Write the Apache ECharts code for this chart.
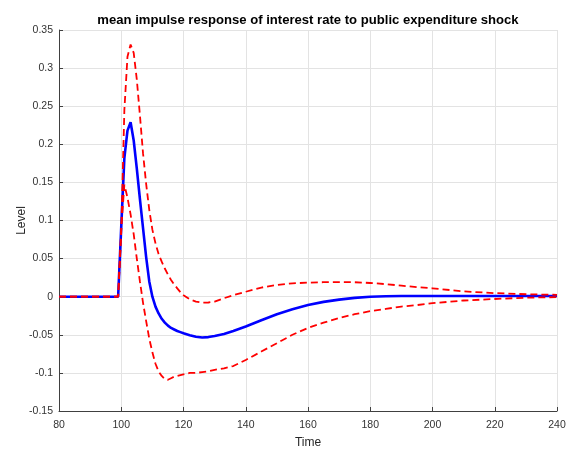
<!DOCTYPE html>
<html>
<head>
<meta charset="utf-8">
<script src="https://cdn.jsdelivr.net/npm/echarts@6/dist/echarts.min.js"></script>
<style>
  html, body { margin: 0; padding: 0; background: #ffffff; }
  #chart { width: 574px; height: 454px; }
</style>
</head>
<body>
<div id="chart"></div>
<script>
// Horizon (periods) shared by the three responses
const time = [80, 99, 100, 101, 102, 103, 104, 105, 106, 107, 108, 109, 110, 111, 112, 113, 114, 115, 116, 117, 118, 119, 120,
  122, 124, 126, 128, 130, 133, 136, 140, 145, 150, 155, 160, 165, 170, 175, 180, 185, 190, 195, 200, 210, 220, 230, 240];

// Mean impulse response of the interest rate
const meanResponse = [0, 0, 0.092, 0.182, 0.218, 0.229, 0.205, 0.168, 0.128, 0.090, 0.052, 0.020, 0.000, -0.013, -0.022, -0.029, -0.034, -0.038, -0.041, -0.043, -0.045, -0.0465, -0.048,
  -0.0505, -0.0525, -0.0535, -0.053, -0.0515, -0.049, -0.045, -0.039, -0.031, -0.023, -0.0165, -0.011, -0.0068, -0.0038, -0.0015, 0, 0.0006, 0.001, 0.001, 0.001, 0.001, 0.001, 0.001, 0.001];

// Upper and lower error bands
const upperBand = [0, 0, 0.085, 0.245, 0.315, 0.331, 0.320, 0.285, 0.238, 0.188, 0.148, 0.114, 0.088, 0.070, 0.056, 0.046, 0.037, 0.029, 0.022, 0.016, 0.011, 0.006, 0.002,
  -0.0035, -0.0065, -0.0078, -0.0076, -0.0065, -0.002, 0.002, 0.0065, 0.012, 0.0155, 0.0175, 0.0185, 0.019, 0.019, 0.019, 0.018, 0.0165, 0.0145, 0.0125, 0.011, 0.007, 0.0047, 0.0032, 0.0025];

const lowerBand = [0, 0, 0.090, 0.147, 0.130, 0.108, 0.082, 0.050, 0.020, -0.008, -0.032, -0.055, -0.073, -0.088, -0.098, -0.104, -0.108, -0.109, -0.107, -0.105, -0.104, -0.103, -0.102,
  -0.100, -0.100, -0.099, -0.098, -0.096, -0.094, -0.091, -0.083, -0.072, -0.061, -0.050, -0.041, -0.034, -0.028, -0.023, -0.019, -0.016, -0.013, -0.011, -0.0085, -0.005, -0.003, -0.0013, -0.0005];

// Axis tick values
const xTicks = [80, 100, 120, 140, 160, 180, 200, 220, 240];
const yTicks = [-0.15, -0.1, -0.05, 0, 0.05, 0.1, 0.15, 0.2, 0.25, 0.3, 0.35];

const pairs = (ys) => time.map((t, i) => [t, ys[i]]);

const FONT = '"Liberation Sans", Arial, Helvetica, sans-serif';
const AXIS_COLOR = '#404040';
const LABEL_COLOR = '#333333';
const GRID_COLOR = '#e3e3e3';

const chart = echarts.init(document.getElementById('chart'), null, { renderer: 'canvas' });

chart.setOption({
  animation: false,
  backgroundColor: '#ffffff',
  textStyle: { fontFamily: FONT },
  title: {
    text: 'mean impulse response of interest rate to public expenditure shock',
    left: 303,
    textAlign: 'center',
    top: 9,
    textStyle: { fontFamily: FONT, fontSize: 13.1, fontWeight: 'bold', color: '#000000' }
  },
  grid: { left: 59, right: 17, top: 30, bottom: 43, containLabel: false, outerBoundsMode: 'none' },
  xAxis: {
    type: 'value',
    min: xTicks[0],
    max: xTicks[xTicks.length - 1],
    interval: xTicks[1] - xTicks[0],
    name: 'Time',
    nameLocation: 'middle',
    nameGap: 26,
    nameMoveOverlap: false,
    nameTextStyle: { fontFamily: FONT, fontSize: 12, color: '#262626' },
    axisLine: { onZero: false, lineStyle: { color: AXIS_COLOR, width: 1 } },
    axisTick: { show: true, inside: true, length: 4, lineStyle: { color: AXIS_COLOR } },
    axisLabel: { fontFamily: FONT, fontSize: 10.5, color: LABEL_COLOR, margin: 9 },
    splitLine: { show: true, lineStyle: { color: GRID_COLOR, width: 1 } }
  },
  yAxis: {
    type: 'value',
    min: yTicks[0],
    max: yTicks[yTicks.length - 1],
    interval: 0.05,
    name: 'Level',
    nameLocation: 'middle',
    nameRotate: 90,
    nameGap: 31,
    nameMoveOverlap: false,
    nameTextStyle: { fontFamily: FONT, fontSize: 12, color: '#262626' },
    axisLine: { show: true, onZero: false, lineStyle: { color: AXIS_COLOR, width: 1 } },
    axisTick: { show: true, inside: true, length: 4, lineStyle: { color: AXIS_COLOR } },
    axisLabel: {
      fontFamily: FONT, fontSize: 10.5, color: LABEL_COLOR, margin: 6,
      formatter: (v) => String(Math.round(v * 100) / 100)
    },
    splitLine: { show: true, lineStyle: { color: GRID_COLOR, width: 1 } }
  },
  series: [
    {
      name: 'mean',
      type: 'line',
      data: pairs(meanResponse),
      showSymbol: false,
      symbol: 'none',
      lineStyle: { color: '#0000ff', width: 2.6 },
      z: 2
    },
    {
      name: 'upper',
      type: 'line',
      data: pairs(upperBand),
      showSymbol: false,
      symbol: 'none',
      lineStyle: { color: '#ff0000', width: 1.8, type: [7, 4] },
      z: 3
    },
    {
      name: 'lower',
      type: 'line',
      data: pairs(lowerBand),
      showSymbol: false,
      symbol: 'none',
      lineStyle: { color: '#ff0000', width: 1.8, type: [7, 4] },
      z: 3
    }
  ]
});
</script>
</body>
</html>
